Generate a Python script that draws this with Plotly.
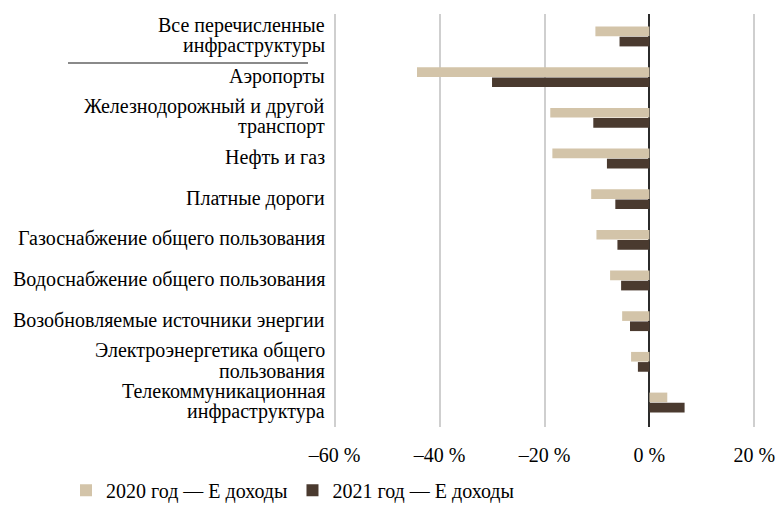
import plotly.graph_objects as go

categories = [
    "Все перечисленные<br>инфраструктуры",
    "Аэропорты",
    "Железнодорожный и другой<br>транспорт",
    "Нефть и газ",
    "Платные дороги",
    "Газоснабжение общего пользования",
    "Водоснабжение общего пользования",
    "Возобновляемые источники энергии",
    "Электроэнергетика общего<br>пользования",
    "Телекоммуникационная<br>инфраструктура",
]
values_2020 = [-10.3, -44.3, -18.9, -18.5, -11.1, -10.1, -7.5, -5.2, -3.5, 3.4]
values_2021 = [-5.7, -30.0, -10.7, -8.1, -6.5, -6.1, -5.4, -3.7, -2.2, 6.7]
tick_vals = [-60, -40, -20, 0, 20]
tick_text = ["–60 %", "–40 %", "–20 %", "0 %", "20 %"]
names = ["2020 год — Е доходы", "2021 год — Е доходы"]

L, R, T, B = 332, 22, 14, 84
W, H = 779, 511
pw, ph = W - L - R, H - T - B
FS = 20
LINE = 20

fig = go.Figure()
fig.add_trace(go.Bar(y=categories, x=values_2020, orientation="h", name=names[0],
                     marker=dict(color="#d3c4a9", line=dict(width=0))))
fig.add_trace(go.Bar(y=categories, x=values_2021, orientation="h", name=names[1],
                     marker=dict(color="#4a3a2f", line=dict(width=0))))

# category labels as annotations (one per line for tight line spacing)
for cat in categories:
    lines = cat.split("<br>")
    n = len(lines)
    for i, ln in enumerate(lines):
        off = (i - (n - 1) / 2) * LINE
        fig.add_annotation(x=0, xref="paper", y=cat, yref="y", text=ln,
                           showarrow=False, xanchor="right", yanchor="middle",
                           xshift=-5, yshift=-off + 1,
                           font=dict(family="Liberation Serif", size=FS, color="black"))

fig.update_layout(
    width=W, height=H,
    margin=dict(l=L, r=R, t=T, b=B, autoexpand=False),
    paper_bgcolor="white", plot_bgcolor="white",
    font=dict(family="Liberation Serif", size=FS, color="black"),
    barmode="group", bargap=0.5, bargroupgap=0.05,
    showlegend=True,
    legend=dict(orientation="h", x=(66 - L) / pw, y=-0.153, xanchor="left", yanchor="middle",
                font=dict(size=FS), itemwidth=30, tracegroupgap=0),
    xaxis=dict(range=[-60.5, 20.5], tickvals=tick_vals, ticktext=tick_text,
               showgrid=True, gridcolor="#cfcfcf", gridwidth=1.8,
               zeroline=True, zerolinecolor="#2b2b2b", zerolinewidth=2,
               ticks="outside", ticklen=10, tickcolor="rgba(0,0,0,0)",
               showline=False, fixedrange=True, automargin=False),
    yaxis=dict(autorange="reversed", showgrid=False, zeroline=False,
               showticklabels=False, showline=False, automargin=False),
)
fig.add_shape(type="line", xref="paper", yref="paper",
              x0=(68 - L) / pw, x1=(308 - L) / pw,
              y0=(H - B - 63) / ph, y1=(H - B - 63) / ph,
              line=dict(color="#8a8a8a", width=2))

fig.write_html("out.html")
